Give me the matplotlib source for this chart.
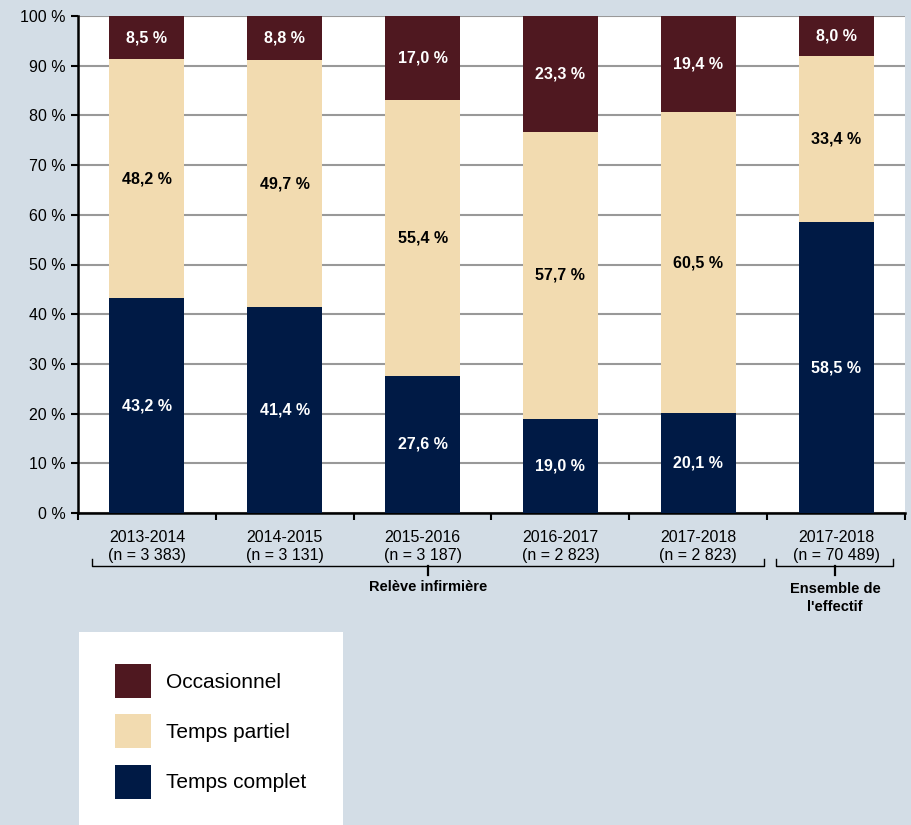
import matplotlib
matplotlib.use("Agg")
import matplotlib.pyplot as plt
from matplotlib.patches import Rectangle, Patch
from matplotlib.lines import Line2D

plt.rcParams['font.family'] = ['Liberation Sans', 'DejaVu Sans']

categories = ["2013-2014\n(n = 3 383)", "2014-2015\n(n = 3 131)", "2015-2016\n(n = 3 187)",
              "2016-2017\n(n = 2 823)", "2017-2018\n(n = 2 823)", "2017-2018\n(n = 70 489)"]
temps_complet = [43.2, 41.4, 27.6, 19.0, 20.1, 58.5]
temps_partiel = [48.2, 49.7, 55.4, 57.7, 60.5, 33.4]
occasionnel = [8.5, 8.8, 17.0, 23.3, 19.4, 8.0]
yticks = [0, 10, 20, 30, 40, 50, 60, 70, 80, 90, 100]

C_COMP = "#001a45"
C_PART = "#f2dbb0"
C_OCC = "#4f1820"
BG = "#d3dde6"

W, H = 911, 825
fig = plt.figure(figsize=(W / 100, H / 100), dpi=100, facecolor=BG)

def fx(px):
    return px / W

def fy(py):
    return 1 - py / H

ax = fig.add_axes([fx(78), fy(513), fx(905) - fx(78), fy(16) - fy(513)])
ax.set_facecolor("white")

x = list(range(len(categories)))
bw = 0.545
ax.bar(x, temps_complet, bw, color=C_COMP, zorder=3)
bottom2 = temps_complet
ax.bar(x, temps_partiel, bw, bottom=bottom2, color=C_PART, zorder=3)
bottom3 = [a + b for a, b in zip(temps_complet, temps_partiel)]
ax.bar(x, occasionnel, bw, bottom=bottom3, color=C_OCC, zorder=3)

def fmt(v):
    return f"{v:.1f}".replace(".", ",") + " %"

for i in x:
    ax.text(i, temps_complet[i] / 2, fmt(temps_complet[i]), ha="center", va="center",
            color="white", fontsize=11.5, fontweight="bold", zorder=4)
    ax.text(i, bottom2[i] + temps_partiel[i] / 2, fmt(temps_partiel[i]), ha="center", va="center",
            color="black", fontsize=11.5, fontweight="bold", zorder=4)
    top = min(bottom3[i] + occasionnel[i], 100)
    ax.text(i, (bottom3[i] + top) / 2, fmt(occasionnel[i]), ha="center", va="center",
            color="white", fontsize=11.5, fontweight="bold", zorder=4)

ax.set_ylim(0, 100)
ax.set_xlim(-0.5, len(categories) - 0.5)
ax.set_yticks(yticks)
ax.set_yticklabels([f"{t} %" for t in yticks], fontsize=11.5)
ax.yaxis.grid(True, color="#999999", linewidth=1.5, zorder=0)
ax.set_axisbelow(True)

# category boundary ticks on x-axis
ax.set_xticks([i - 0.5 for i in range(len(categories) + 1)])
ax.set_xticklabels([])
ax.set_xticks(x, minor=True)
ax.set_xticklabels(categories, minor=True, fontsize=11.5, linespacing=1.3)
ax.tick_params(axis="x", which="minor", length=0, pad=12)
ax.tick_params(axis="x", which="major", length=5, width=1.5, direction="out")
ax.tick_params(axis="y", length=5, width=1.5, direction="out", pad=4)

for s in ["top", "right"]:
    ax.spines[s].set_visible(False)
for s in ["left", "bottom"]:
    ax.spines[s].set_linewidth(1.8)
    ax.spines[s].set_color("black")

# braces
def brace(x0, x1, xc, y_line=566, y_end=559, y_tip=575):
    kw = dict(color="black", linewidth=1.0, transform=fig.transFigure)
    fig.add_artist(Line2D([fx(x0), fx(x0), fx(x1), fx(x1)],
                          [fy(y_end), fy(y_line), fy(y_line), fy(y_end)], **kw))
    fig.add_artist(Line2D([fx(xc), fx(xc)], [fy(y_line), fy(y_tip)], linewidth=1.6,
                          color="black", transform=fig.transFigure))

brace(92, 764, 428)
brace(776, 893, 835)
fig.text(fx(428), fy(587), "Relève infirmière", ha="center", va="center",
         fontsize=10.5, fontweight="bold")
fig.text(fx(835), fy(598), "Ensemble de\nl'effectif", ha="center", va="center",
         fontsize=10.5, fontweight="bold", linespacing=1.3)

# legend box
fig.add_artist(Rectangle((fx(79), 0), fx(343) - fx(79), fy(632), transform=fig.transFigure,
                         facecolor="white", edgecolor="none", zorder=0))
handles = [Patch(facecolor=C_OCC, label="Occasionnel"),
           Patch(facecolor=C_PART, label="Temps partiel"),
           Patch(facecolor=C_COMP, label="Temps complet")]
fig.legend(handles=handles, loc="upper left", bbox_to_anchor=(fx(115), fy(664)),
           frameon=False, fontsize=15, handlelength=1.75, handleheight=2.14,
           handletextpad=0.7, labelspacing=0.78, borderpad=0, borderaxespad=0)

fig.savefig("out.png", dpi=100, facecolor=BG)
